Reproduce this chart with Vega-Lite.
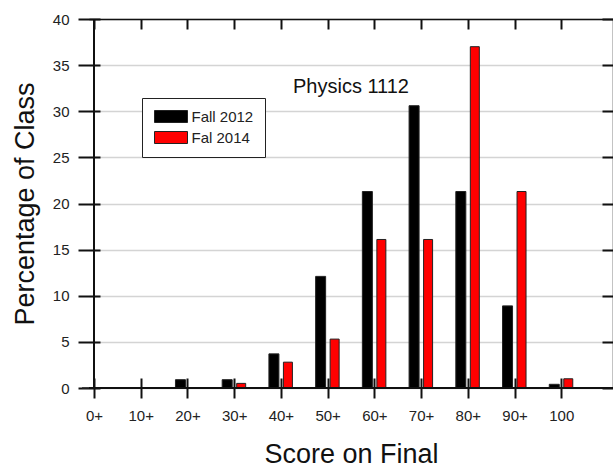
{
  "$schema": "https://vega.github.io/schema/vega-lite/v6.json",
  "width": 524,
  "height": 369,
  "autosize": "none",
  "padding": {"left": 89, "top": 19, "right": 0, "bottom": 80},
  "background": "white",
  "config": {
    "font": "Liberation Sans",
    "view": {"stroke": null},
    "axis": {
      "domainColor": "#111",
      "domainWidth": 1.5,
      "tickColor": "#111",
      "tickWidth": 2,
      "labelFont": "Liberation Sans",
      "labelColor": "#222",
      "titleFont": "Liberation Sans",
      "titleFontWeight": "normal",
      "titleColor": "#111",
      "gridColor": "#d4d4d4",
      "gridWidth": 1.5
    }
  },
  "data": {
    "values": [
      {"score": 0, "term": "Fall 2012", "pct": 0},
      {"score": 10, "term": "Fall 2012", "pct": 0},
      {"score": 20, "term": "Fall 2012", "pct": 0.9},
      {"score": 30, "term": "Fall 2012", "pct": 0.9},
      {"score": 40, "term": "Fall 2012", "pct": 3.7},
      {"score": 50, "term": "Fall 2012", "pct": 12.1},
      {"score": 60, "term": "Fall 2012", "pct": 21.3},
      {"score": 70, "term": "Fall 2012", "pct": 30.6},
      {"score": 80, "term": "Fall 2012", "pct": 21.3},
      {"score": 90, "term": "Fall 2012", "pct": 8.9},
      {"score": 100, "term": "Fall 2012", "pct": 0.4},
      {"score": 0, "term": "Fal 2014", "pct": 0},
      {"score": 10, "term": "Fal 2014", "pct": 0},
      {"score": 20, "term": "Fal 2014", "pct": 0},
      {"score": 30, "term": "Fal 2014", "pct": 0.5},
      {"score": 40, "term": "Fal 2014", "pct": 2.8},
      {"score": 50, "term": "Fal 2014", "pct": 5.3},
      {"score": 60, "term": "Fal 2014", "pct": 16.1},
      {"score": 70, "term": "Fal 2014", "pct": 16.1},
      {"score": 80, "term": "Fal 2014", "pct": 37.0},
      {"score": 90, "term": "Fal 2014", "pct": 21.3},
      {"score": 100, "term": "Fal 2014", "pct": 1.0}
    ]
  },
  "layer": [
    {
      "transform": [{"filter": "datum.term == 'Fall 2012'"}],
      "mark": {"type": "bar", "width": 10, "xOffset": -7, "stroke": "#222", "strokeWidth": 1},
      "encoding": {
        "x": {
          "field": "score",
          "type": "quantitative",
          "scale": {"domain": [0, 110], "nice": false, "zero": false},
          "axis": {
            "orient": "bottom",
            "offset": -10,
            "domain": false,
            "values": [0, 10, 20, 30, 40, 50, 60, 70, 80, 90, 100],
            "labelExpr": "datum.value == 100 ? '100' : datum.value + '+'",
            "tickSize": 20,
            "labelPadding": 10,
            "labelFontSize": 15,
            "grid": false,
            "title": "Score on Final",
            "titleFontSize": 27,
            "titlePadding": 18
          }
        },
        "y": {
          "field": "pct",
          "type": "quantitative",
          "scale": {"domain": [0, 40], "nice": false},
          "axis": {
            "orient": "left",
            "offset": -11,
            "domain": false,
            "values": [0, 5, 10, 15, 20, 25, 30, 35, 40],
            "tickSize": 22,
            "labelPadding": 9,
            "labelFontSize": 15,
            "grid": false,
            "title": "Percentage of Class",
            "titleFontSize": 27,
            "titlePadding": 13
          }
        },
        "color": {
          "field": "term",
          "type": "nominal",
          "scale": {"domain": ["Fall 2012", "Fal 2014"], "range": ["#000000", "#ff0000"]},
          "legend": {
            "title": null,
            "orient": "none",
            "legendX": 53,
            "legendY": 79,
            "strokeColor": "#222",
            "fillColor": "white",
            "padding": 11,
            "rowPadding": 4,
            "symbolType": "M-2.75,-1H2.75V1H-2.75Z",
            "symbolSize": 144,
            "symbolOffset": 10.5,
            "symbolStrokeColor": "#222",
            "symbolStrokeWidth": 1,
            "labelOffset": 13,
            "labelFontSize": 15,
            "labelColor": "#222"
          }
        }
      }
    },
    {
      "transform": [{"filter": "datum.term == 'Fal 2014'"}],
      "mark": {"type": "bar", "width": 9, "xOffset": 7, "stroke": "#222", "strokeWidth": 1},
      "encoding": {
        "x": {
          "field": "score",
          "type": "quantitative",
          "axis": {
            "orient": "top",
            "values": [0, 10, 20, 30, 40, 50, 60, 70, 80, 90, 100],
            "labels": false,
            "tickSize": -10,
            "grid": false,
            "title": null
          }
        },
        "y": {
          "field": "pct",
          "type": "quantitative",
          "axis": {
            "orient": "right",
            "values": [0, 5, 10, 15, 20, 25, 30, 35, 40],
            "labels": false,
            "tickSize": -11,
            "grid": true,
            "title": null
          }
        },
        "color": {"field": "term", "type": "nominal"}
      }
    },
    {
      "mark": {"type": "rule", "color": "#111", "strokeWidth": 1.5},
      "encoding": {"y": {"datum": 0, "type": "quantitative", "axis": null}}
    },
    {
      "mark": {"type": "rule", "color": "#111", "strokeWidth": 1.5},
      "encoding": {"x": {"datum": 0, "type": "quantitative", "axis": null}}
    },
    {
      "data": {"values": [{"label": "Physics 1112"}]},
      "mark": {"type": "text", "fontSize": 20, "align": "center", "baseline": "alphabetic", "color": "#111", "font": "Liberation Sans"},
      "encoding": {
        "x": {"datum": 55, "type": "quantitative", "axis": null},
        "y": {"datum": 32, "type": "quantitative", "axis": null},
        "text": {"field": "label"}
      }
    }
  ],
  "resolve": {"axis": {"x": "independent", "y": "independent"}}
}
